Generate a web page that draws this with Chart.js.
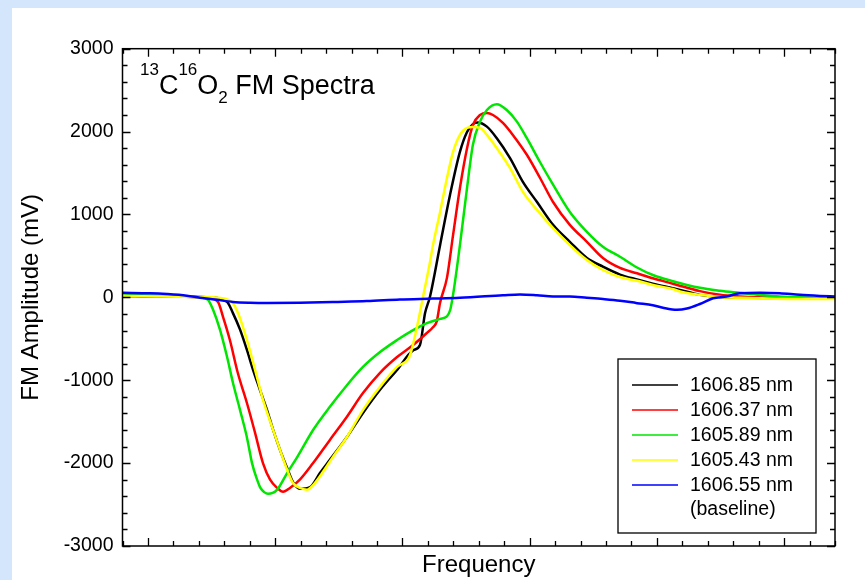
<!DOCTYPE html>
<html>
<head>
<meta charset="utf-8">
<script src="https://cdn.jsdelivr.net/npm/chart.js@4.4.0/dist/chart.umd.min.js"></script>
<style>
  html, body { margin: 0; padding: 0; background: #d4e6fc; overflow: hidden; }
  #wrap { position: absolute; left: 12px; top: 8px; width: 853px; height: 572px; background: #fff; }
</style>
</head>
<body>
<div id="wrap"><canvas id="c" width="853" height="572"></canvas></div>
<script>
// frequency axis has no labels, x is in tick units (0..28)
const labels = ['1606.85 nm', '1606.37 nm', '1605.89 nm', '1605.43 nm', '1606.55 nm\n(baseline)'];
const colors = ['#000000', '#ff0000', '#00e600', '#ffff00', '#0000ff'];

const freqBlack = [0, 1.5, 3.5, 4.11, 4.34, 4.62, 4.89, 5.13, 5.40, 5.68, 5.92, 6.19, 6.47, 6.70, 6.97, 7.37, 7.76, 8.15, 8.82, 9.45, 10.12, 10.79, 11.42, 11.69, 11.89, 12.08, 12.48, 12.87, 13.26, 13.54, 13.77, 13.96, 14.32, 14.71, 15.23, 15.74, 16.29, 16.92, 17.58, 18.25, 18.88, 19.55, 20.22, 20.84, 21.63, 21.91, 22.69, 23.48, 24.26, 28];
const ampBlack = [20, 10, 0, -55, -190, -390, -635, -875, -1115, -1360, -1600, -1840, -2060, -2230, -2310, -2290, -2120, -1960, -1685, -1395, -1115, -875, -640, -575, -190, 5, 630, 1235, 1755, 1995, 2090, 2110, 2060, 1920, 1680, 1390, 1150, 875, 670, 475, 370, 275, 215, 165, 110, 90, 30, 5, -5, -10];

const freqRed = [0, 1.5, 3.3, 3.75, 3.95, 4.22, 4.53, 4.89, 5.21, 5.52, 5.80, 6.08, 6.31, 6.58, 6.97, 7.49, 8.15, 8.82, 9.45, 10.12, 10.79, 11.42, 11.96, 12.20, 12.35, 12.48, 12.75, 12.99, 13.26, 13.54, 13.77, 14.05, 14.32, 14.56, 14.95, 15.34, 15.89, 16.41, 16.92, 17.58, 18.25, 18.88, 19.55, 20.22, 20.84, 21.63, 22.69, 23.48, 24.26, 25.32, 28];
const ampRed = [20, 10, 0, -55, -235, -515, -910, -1275, -1635, -2000, -2200, -2300, -2345, -2300, -2200, -2000, -1720, -1440, -1155, -910, -720, -575, -430, -360, -290, -65, 235, 750, 1320, 1800, 2080, 2200, 2225, 2200, 2105, 1960, 1720, 1440, 1150, 875, 670, 475, 355, 290, 230, 165, 75, 30, 10, -5, -10];

const freqGreen = [0, 1.5, 3.05, 3.36, 3.56, 3.83, 4.11, 4.34, 4.62, 4.89, 5.09, 5.29, 5.42, 5.57, 5.72, 5.90, 6.08, 6.47, 6.86, 7.49, 8.15, 8.82, 9.45, 10.12, 10.79, 11.42, 11.96, 12.48, 12.75, 12.88, 12.99, 13.26, 13.54, 13.77, 14.05, 14.32, 14.71, 15.10, 15.50, 15.89, 16.41, 16.92, 17.58, 18.25, 18.88, 19.55, 20.22, 20.84, 21.63, 22.69, 23.48, 24.26, 25.05, 25.83, 26.62, 28];
const ampGreen = [30, 20, 0, -30, -150, -390, -720, -1030, -1360, -1690, -2000, -2200, -2300, -2350, -2370, -2360, -2320, -2120, -1930, -1600, -1320, -1060, -840, -660, -515, -395, -310, -260, -230, -150, 30, 630, 1320, 1840, 2120, 2260, 2330, 2260, 2120, 1920, 1630, 1360, 1030, 790, 610, 490, 360, 270, 195, 115, 80, 55, 30, 10, 0, -10];

const freqYellow = [0, 1.5, 3.6, 4.30, 4.54, 4.89, 5.21, 5.52, 5.88, 6.19, 6.47, 6.70, 6.97, 7.25, 7.49, 7.88, 8.27, 8.82, 9.45, 10.12, 10.79, 11.30, 11.57, 11.81, 12.08, 12.20, 12.48, 12.75, 12.99, 13.26, 13.54, 13.77, 14.05, 14.32, 14.71, 15.23, 15.74, 16.29, 16.92, 17.58, 18.25, 18.88, 19.55, 20.22, 20.84, 21.63, 21.91, 22.69, 23.48, 24.26, 26.62, 28];
const ampYellow = [20, 10, 0, -55, -190, -515, -875, -1235, -1565, -1840, -2080, -2240, -2300, -2320, -2265, -2105, -1925, -1685, -1360, -1080, -840, -695, -360, 5, 420, 630, 1030, 1440, 1755, 1960, 2045, 2055, 2045, 1960, 1800, 1560, 1270, 1055, 835, 630, 450, 330, 245, 200, 150, 100, 70, 30, 5, -5, -20, -20];

const freqBlue = [0, 1.08, 1.75, 2.53, 3.05, 3.71, 4.34, 5.01, 5.68, 6.97, 8.27, 9.60, 10.90, 12.20, 13.26, 14.95, 15.62, 16.29, 16.92, 17.58, 18.25, 18.88, 19.55, 20.22, 20.84, 21.24, 21.79, 22.18, 22.69, 23.21, 23.74, 24.26, 25.05, 25.83, 26.62, 27.41, 28];
const ampBlue = [55, 50, 40, 20, -5, -30, -55, -65, -68, -65, -55, -45, -25, -15, -5, 25, 35, 25, 10, 10, -5, -20, -40, -70, -95, -125, -150, -135, -80, -10, 10, 50, 57, 50, 30, 17, 10];

const yMajor = 1000;
const xMajorTicks = [1, 6, 11, 16, 21, 26];

const FONT = '"Liberation Sans", Arial, sans-serif';
Chart.defaults.font.family = FONT;
Chart.defaults.color = '#000';

function pts(xs, ys) {
  return xs.map((x, i) => ({x: x, y: ys[i]}));
}

const series = [
  pts(freqBlack, ampBlack),
  pts(freqRed, ampRed),
  pts(freqGreen, ampGreen),
  pts(freqYellow, ampYellow),
  pts(freqBlue, ampBlue)
];
const drawOrder = [4, 3, 2, 1, 0];

const datasets = series.map((d, i) => ({
  label: labels[i],
  data: d,
  borderColor: colors[i],
  borderWidth: 2.5,
  pointRadius: 0,
  cubicInterpolationMode: 'monotone',
  order: drawOrder[i]
}));

// inward ticks on all four sides plus the box
const frame = {
  id: 'frame',
  afterDatasetsDraw(chart) {
    const {ctx, chartArea: a, scales} = chart;
    const x = scales.x, y = scales.y;
    ctx.save();
    ctx.strokeStyle = '#000';
    ctx.lineWidth = 1.3;
    ctx.beginPath();
    x.ticks.forEach(t => {
      const px = Math.round(x.getPixelForValue(t.value)) + 0.5;
      const len = xMajorTicks.includes(t.value) ? 8 : 5;
      ctx.moveTo(px, a.bottom); ctx.lineTo(px, a.bottom - len);
      ctx.moveTo(px, a.top); ctx.lineTo(px, a.top + len);
    });
    y.ticks.forEach(t => {
      const py = Math.round(y.getPixelForValue(t.value)) + 0.5;
      const len = Math.round(t.value) % yMajor === 0 ? 8 : 5;
      ctx.moveTo(a.left, py); ctx.lineTo(a.left + len, py);
      ctx.moveTo(a.right, py); ctx.lineTo(a.right - len, py);
    });
    ctx.stroke();
    ctx.lineWidth = 1.5;
    ctx.strokeRect(a.left, a.top, a.right - a.left, a.bottom - a.top);
    ctx.restore();
  }
};

const legendBox = {
  id: 'legendBox',
  afterDraw(chart) {
    const {ctx, chartArea: a} = chart;
    const w = 198, h = 174;
    const bx = a.right - 19 - w, by = a.bottom - 13 - h;
    ctx.save();
    ctx.strokeStyle = '#000';
    ctx.lineWidth = 1.3;
    ctx.strokeRect(bx, by, w, h);
    ctx.font = '19.5px ' + FONT;
    ctx.textBaseline = 'middle';
    ctx.fillStyle = '#000';
    let yy = by + 26;
    chart.data.datasets.forEach(ds => {
      ctx.strokeStyle = ds.borderColor;
      ctx.lineWidth = 1.6;
      ctx.beginPath();
      ctx.moveTo(bx + 14, yy); ctx.lineTo(bx + 60, yy);
      ctx.stroke();
      ds.label.split('\n').forEach((line, i) => {
        ctx.fillText(line, bx + 72, yy + 1 + i * 23.5);
      });
      yy += 25;
    });
    ctx.restore();
  }
};

const spectraTitle = {
  id: 'spectraTitle',
  afterDraw(chart) {
    const {ctx, chartArea: a} = chart;
    const big = '27px ' + FONT, small = '17px ' + FONT;
    const parts = [['13', small, -19], ['C', big, 0], ['16', small, -19], ['O', big, 0], ['2', small, 8.7], [' FM Spectra', big, 0]];
    let x = a.left + 17.5;
    const base = a.top + 45.3;
    ctx.save();
    ctx.fillStyle = '#000';
    ctx.textBaseline = 'alphabetic';
    parts.forEach(([t, f, dy]) => {
      ctx.font = f;
      ctx.fillText(t, x, base + dy);
      x += ctx.measureText(t).width;
    });
    ctx.restore();
  }
};

new Chart(document.getElementById('c'), {
  type: 'line',
  data: {datasets: datasets},
  options: {
    responsive: false,
    animation: false,
    devicePixelRatio: 1,
    events: [],
    layout: {padding: {top: 40.7, right: 30, left: 0, bottom: 0}},
    plugins: {legend: {display: false}, tooltip: {enabled: false}},
    scales: {
      x: {
        type: 'linear',
        min: 0,
        max: 28,
        grid: {display: false},
        border: {display: false},
        ticks: {display: false, stepSize: 1, maxTicksLimit: 100},
        title: {display: true, text: 'Frequency', font: {size: 24, lineHeight: 1.2}, padding: {top: -2, bottom: 0}},
        afterFit: s => { s.height = 34; }
      },
      y: {
        min: -3000,
        max: 3000,
        grid: {display: false, drawTicks: false},
        border: {display: false},
        ticks: {
          stepSize: 200,
          maxTicksLimit: 100,
          autoSkip: false,
          padding: 9,
          font: {size: 19.5},
          callback: v => Math.round(v) % yMajor === 0 ? String(Math.round(v)) : ''
        },
        title: {display: true, text: 'FM Amplitude (mV)', font: {size: 24, lineHeight: 1.2}, padding: {top: 4.6, bottom: 0}},
        afterFit: s => { s.width = 110.5; }
      }
    }
  },
  plugins: [frame, legendBox, spectraTitle]
});
</script>
</body>
</html>
